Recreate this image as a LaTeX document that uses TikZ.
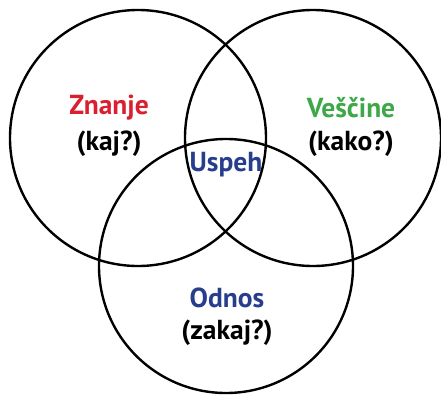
\documentclass[tikz,border=0pt]{standalone}
\usepackage{fontspec}
\setmainfont{PT Sans}
\definecolor{zred}{RGB}{218,32,48}
\definecolor{zgreen}{RGB}{62,168,72}
\definecolor{zblue}{RGB}{38,62,140}
\begin{document}
\begin{tikzpicture}[x=1pt,y=-1pt,
  ring/.style={draw=black,line width=2.4pt},
  lbl/.style={font=\bfseries\fontsize{27.5}{32}\selectfont,inner sep=0pt}]
\useasboundingbox (0,0) rectangle (441,394);
\draw[ring] (138,138) circle (128);
\draw[ring] (313,138) circle (128);
\draw[ring] (226,266) circle (127);
\node[lbl,text=zred] (znanje) at (109,108) {Znanje};
\node[lbl] (kaj) at (109,144) {(kaj?)};
\node[lbl,text=zgreen] (vescine) at (351,108) {Veščine};
\node[lbl] (kako) at (351,144) {(kako?)};
\node[lbl,text=zblue] (uspeh) at (226,165) {Uspeh};
\node[lbl,text=zblue] (odnos) at (227,298) {Odnos};
\node[lbl] (zakaj) at (227,333) {(zakaj?)};
\end{tikzpicture}
\end{document}
